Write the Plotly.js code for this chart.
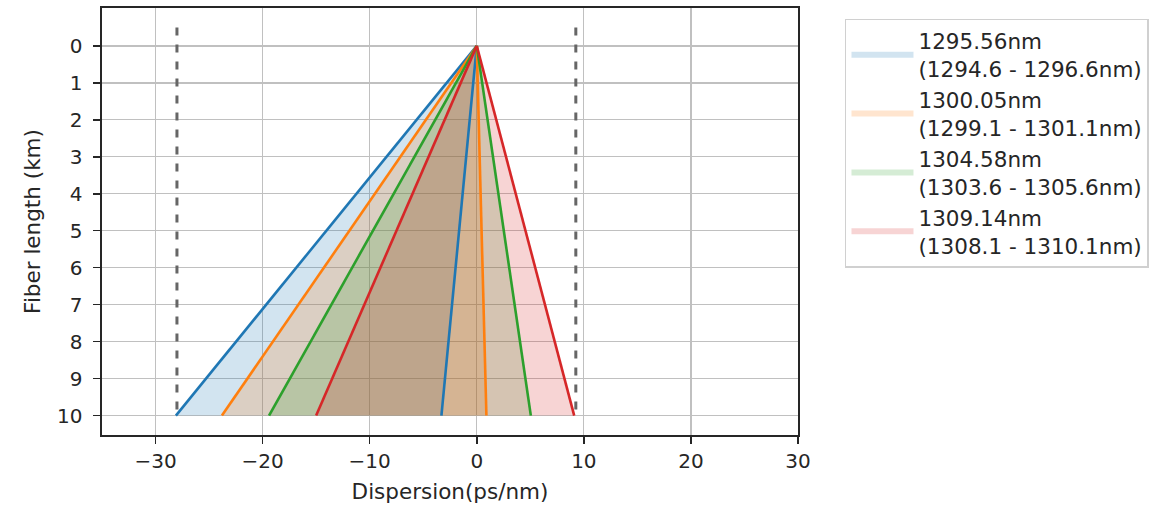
<!DOCTYPE html>
<html>
<head>
<meta charset="utf-8">
<script src="https://cdn.plot.ly/plotly-3.0.1.min.js"></script>
<style>html,body{margin:0;padding:0;background:#fff;}#chart{width:1174px;height:509px;}</style>
</head>
<body>
<div id="chart"></div>
<script>
const fiberLength = [0, 10];
const labels = [
  "1295.56nm<br>(1294.6 - 1296.6nm)",
  "1300.05nm<br>(1299.1 - 1301.1nm)",
  "1304.58nm<br>(1303.6 - 1305.6nm)",
  "1309.14nm<br>(1308.1 - 1310.1nm)"
];
const minDispersion = [-28.1, -23.8, -19.4, -15.0];
const maxDispersion = [-3.3, 0.9, 5.05, 9.1];
const limitLow = -28.0;
const limitHigh = 9.25;
const limitSpan = [-0.5, 10];
const colors = ["#1f77b4", "#ff7f0e", "#2ca02c", "#d62728"];
const fills = ["rgba(31,119,180,0.2)", "rgba(255,127,14,0.2)", "rgba(44,160,44,0.2)", "rgba(214,39,40,0.2)"];

const traces = [];
labels.forEach((lab, i) => {
  traces.push({
    x: [0, minDispersion[i], maxDispersion[i], 0],
    y: [fiberLength[0], fiberLength[1], fiberLength[1], fiberLength[0]],
    mode: "none", fill: "toself", fillcolor: fills[i],
    name: lab, showlegend: true, hoverinfo: "skip"
  });
});
labels.forEach((lab, i) => {
  traces.push({ x: [0, minDispersion[i]], y: fiberLength, mode: "lines",
    line: {color: colors[i], width: 2.6}, showlegend: false });
  traces.push({ x: [0, maxDispersion[i]], y: fiberLength, mode: "lines",
    line: {color: colors[i], width: 2.6}, showlegend: false });
});
[limitLow, limitHigh].forEach(v => {
  traces.push({ x: [v, v], y: limitSpan, mode: "lines",
    line: {color: "#666666", width: 3, dash: "8px,9px"}, showlegend: false });
});

const fam = "DejaVu Sans, sans-serif";
const layout = {
  width: 1174, height: 509,
  margin: {l: 102, r: 376, t: 8, b: 74},
  paper_bgcolor: "#fff", plot_bgcolor: "#fff",
  font: {family: fam, size: 20, color: "#262626"},
  showlegend: true,
  legend: {
    x: 1.0675, y: 0.975, xanchor: "left", yanchor: "top",
    bordercolor: "#d0d0d0", borderwidth: 1.5,
    font: {family: fam, size: 21.5, color: "#262626"},
    tracegroupgap: 0, itemwidth: 62
  },
  xaxis: {
    range: [-35, 30], tickvals: [-30, -20, -10, 0, 10, 20, 30],
    ticktext: ["\u221230", "\u221220", "\u221210", "0", "10", "20", "30"],
    showgrid: true, gridcolor: "#c0c0c0", gridwidth: 1.3,
    zeroline: false, showline: true, mirror: true, linecolor: "#262626", linewidth: 1.6,
    ticks: "outside", ticklen: 7, tickwidth: 1.5, tickcolor: "#262626", ticklabelstandoff: 0,
    tickfont: {family: fam, size: 20, color: "#262626"},
    title: {text: "Dispersion(ps/nm)", font: {family: fam, size: 21.5, color: "#262626"}, standoff: 12}
  },
  yaxis: {
    range: [10.525, -1.025], tickvals: [0,1,2,3,4,5,6,7,8,9,10],
    showgrid: true, gridcolor: "#c0c0c0", gridwidth: 1.3,
    zeroline: false, showline: true, mirror: true, linecolor: "#262626", linewidth: 1.6,
    ticks: "outside", ticklen: 7, tickwidth: 1.5, tickcolor: "#262626", ticklabelstandoff: 7,
    tickfont: {family: fam, size: 20, color: "#262626"},
    title: {text: "Fiber length (km)", font: {family: fam, size: 21.5, color: "#262626"}, standoff: 10}
  }
};
Plotly.newPlot("chart", traces, layout, {displayModeBar: false, staticPlot: true});
</script>
</body>
</html>
